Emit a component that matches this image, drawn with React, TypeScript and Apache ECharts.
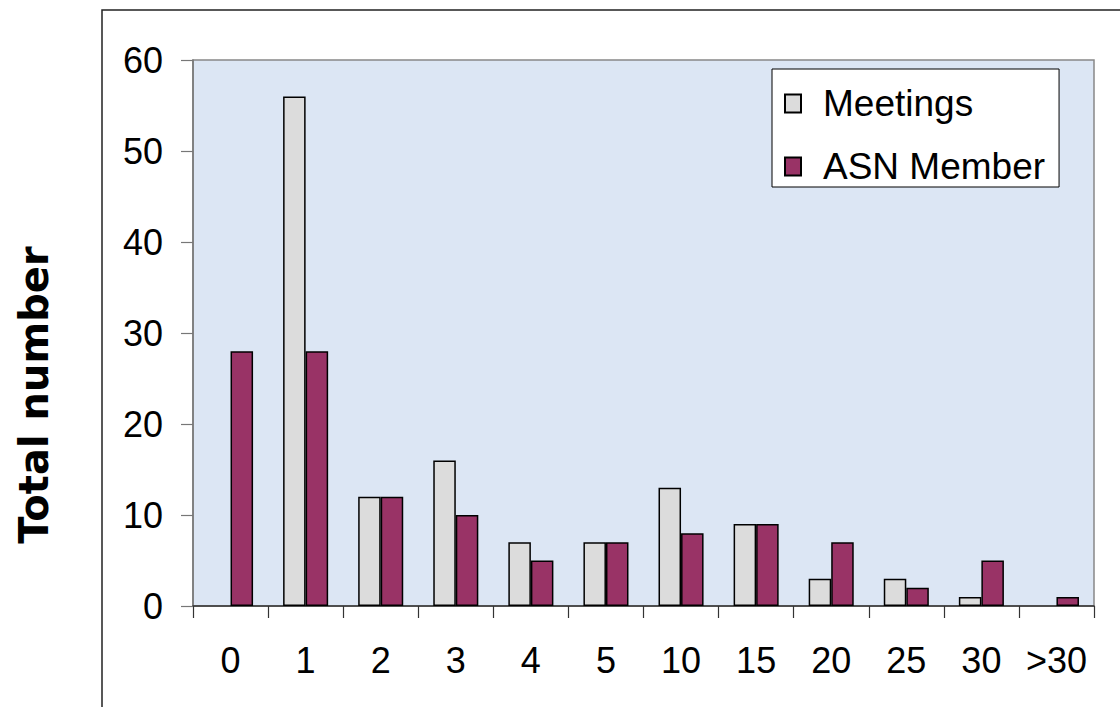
import React, { useEffect, useRef } from "react";
import * as echarts from "echarts";

const categories = ["0", "1", "2", "3", "4", "5", "10", "15", "20", "25", "30", ">30"];
const meetings = [0, 56, 12, 16, 7, 7, 13, 9, 3, 3, 1, 0];
const asnMember = [28, 28, 12, 10, 5, 7, 8, 9, 7, 2, 5, 1];
const yTicks = { min: 0, max: 60, interval: 10 };
const yAxisTitle = "Total number";

// zero-valued bars are not drawn at all in the reference
const noZero = (arr: number[]) => arr.map((v) => (v === 0 ? "-" : v));

export default function App() {
  const ref = useRef<HTMLDivElement>(null);
  useEffect(() => {
    if (!ref.current) return;
    const chart = echarts.init(ref.current, undefined, { renderer: "svg" });
    const font = "'Liberation Sans', Arial, sans-serif";
    chart.setOption({
      animation: false,
      backgroundColor: "#ffffff",
      grid: {
        left: 193,
        top: 60,
        right: 26,
        bottom: 101,
        show: true,
        backgroundColor: "#dce6f4",
        borderColor: "#888888",
        borderWidth: 1.5,
      },
      legend: {
        orient: "vertical",
        left: 772,
        top: 69,
        padding: [16, 14, 2, 12],
        backgroundColor: "#ffffff",
        borderColor: "#000000",
        borderWidth: 1,
        itemWidth: 16,
        itemHeight: 18,
        itemGap: 26,
        icon: "rect",
        textStyle: { fontSize: 37, color: "#000", fontFamily: font, padding: [0, 0, 0, 17] },
        data: ["Meetings", "ASN Member"],
      },
      xAxis: {
        type: "category",
        data: categories,
        axisLine: { show: true, lineStyle: { color: "#333", width: 1.5 } },
        axisTick: { show: true, length: 12, interval: 0, lineStyle: { color: "#333", width: 1.2 } },
        axisLabel: { interval: 0, fontSize: 36, color: "#000", fontFamily: font, margin: 36 },
        splitLine: { show: false },
      },
      yAxis: {
        type: "value",
        min: yTicks.min,
        max: yTicks.max,
        interval: yTicks.interval,
        axisLine: { show: true, lineStyle: { color: "#777", width: 1.5 } },
        axisTick: { show: true, length: 12, lineStyle: { color: "#777", width: 1.2 } },
        axisLabel: { fontSize: 36, color: "#000", fontFamily: font, margin: 30 },
        splitLine: { show: false },
      },
      series: [
        {
          name: "Meetings",
          type: "bar",
          data: noZero(meetings),
          barWidth: "30%",
          barGap: "0%",
          itemStyle: { color: "#dcdcdc", borderColor: "#000", borderWidth: 1.5 },
        },
        {
          name: "ASN Member",
          type: "bar",
          data: noZero(asnMember),
          barWidth: "30%",
          barGap: "0%",
          itemStyle: { color: "#993366", borderColor: "#000", borderWidth: 1.5 },
        },
      ],
      graphic: [
        {
          type: "rect",
          z: -10,
          shape: { x: 102, y: 10, width: 1100, height: 800 },
          style: { fill: "none", stroke: "#222", lineWidth: 1.5 },
        },
        {
          type: "text",
          x: 34,
          y: 395,
          rotation: Math.PI / 2,
          style: {
            text: yAxisTitle,
            fill: "#000",
            font: "bold 40px 'Comic Sans MS', 'DejaVu Sans', sans-serif",
            align: "center",
            verticalAlign: "middle",
          },
        },
      ],
    });
    return () => chart.dispose();
  }, []);
  return (
    <div
      ref={ref}
      style={{ position: "absolute", left: 0, top: 0, width: 1120, height: 707 }}
    />
  );
}
